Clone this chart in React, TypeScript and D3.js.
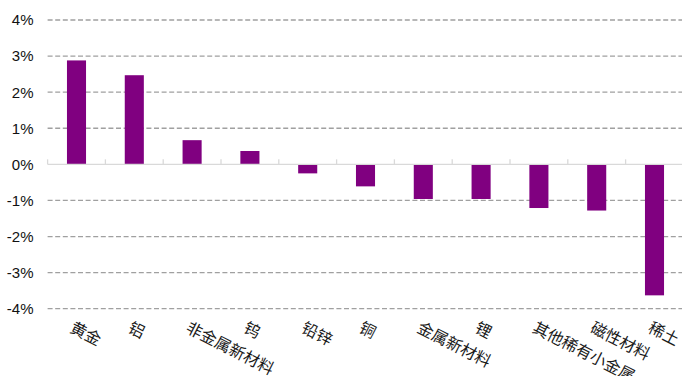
import React from "react";
import * as d3 from "d3";

// Sector returns (%), one bar per sector
const categories = [
  "黄金",
  "铝",
  "非金属新材料",
  "钨",
  "铅锌",
  "铜",
  "金属新材料",
  "锂",
  "其他稀有小金属",
  "磁性材料",
  "稀土",
];
const values = [2.88, 2.47, 0.67, 0.37, -0.25, -0.61, -0.96, -0.96, -1.21, -1.28, -3.63];
const yTicks = [4, 3, 2, 1, 0, -1, -2, -3, -4];

const W = 682;
const H = 376;

export default function App() {
  const x = d3.scaleBand<string>().domain(categories).range([47.6, 683.4]).padding(0);
  const y = d3.scaleLinear().domain([-4, 4]).range([308.7, 20]);
  const step = x.step();
  const barW = step * 0.33;
  const y0 = y(0);

  return (
    <svg
      width={W}
      height={H}
      viewBox={`0 0 ${W} ${H}`}
      style={{ position: "absolute", left: 0, top: 0, background: "#fff" }}
    >
      {/* dashed gridlines */}
      {yTicks
        .filter((t) => t !== 0)
        .map((t) => (
          <line
            key={`g${t}`}
            x1={47.6}
            x2={W}
            y1={y(t)}
            y2={y(t)}
            stroke="#a0a0a0"
            strokeWidth={1.3}
            strokeDasharray="5,2.6"
          />
        ))}

      {/* y-axis labels */}
      {yTicks.map((t) => (
        <text
          key={`l${t}`}
          x={33.5}
          y={y(t)}
          dy="0.36em"
          textAnchor="end"
          fontFamily="'Liberation Sans', Arial, sans-serif"
          fontSize={15}
          fill="#111"
        >
          {`${t}%`}
        </text>
      ))}

      {/* bars */}
      {categories.map((c, i) => {
        const v = values[i];
        const cx = (x(c) as number) + step / 2;
        const top = Math.min(y(v), y0);
        const h = Math.abs(y(v) - y0);
        return (
          <rect key={c} x={cx - barW / 2} y={top} width={barW} height={h} fill="#800080" />
        );
      })}

      {/* zero axis with category ticks */}
      <line x1={47.6} x2={W} y1={y0} y2={y0} stroke="#d9d9d9" strokeWidth={1.3} />
      {categories.map((c) => (
        <line
          key={`t${c}`}
          x1={x(c) as number}
          x2={x(c) as number}
          y1={y0}
          y2={y0 - 5}
          stroke="#d9d9d9"
          strokeWidth={1.3}
        />
      ))}

      {/* rotated category labels */}
      {categories.map((c) => {
        const cx = (x(c) as number) + step / 2;
        return (
          <text
            key={`c${c}`}
            transform={`translate(${cx - 1},${319}) rotate(27)`}
            x={0}
            y={0}
            dy="0.88em"
            fontFamily="'Noto Sans CJK SC', sans-serif"
            fontSize={16}
            fill="#1a1a1a"
          >
            {c}
          </text>
        );
      })}
    </svg>
  );
}
